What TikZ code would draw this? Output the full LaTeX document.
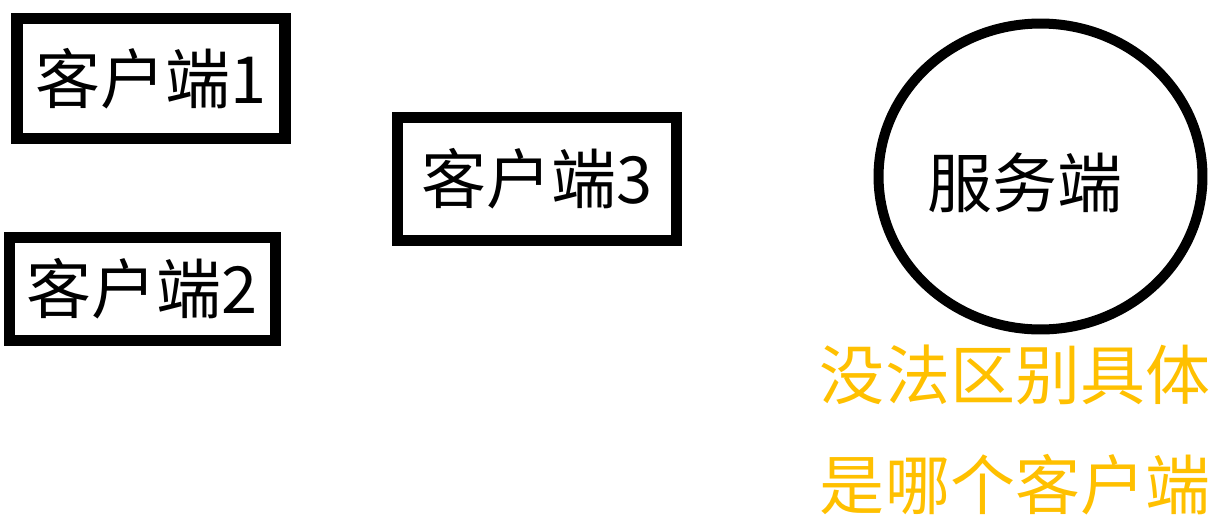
\documentclass[tikz,border=0pt]{standalone}
\usepackage{fontspec}
\setmainfont{Noto Sans CJK SC}
\usetikzlibrary{shapes.geometric}
\definecolor{noteGold}{RGB}{255, 192, 0}

\begin{document}
\begin{tikzpicture}[x=0.02cm, y=-0.02cm,
    client/.style={draw, line width=6.3pt, inner sep=0pt, font=\fontsize{37}{37}\selectfont},
    bigtext/.style={font=\fontsize{37}{62.6}\selectfont}]
  \useasboundingbox (0,0) rectangle (1219,525);
  \node[client, minimum width=5.36cm, minimum height=2.41cm] (client1) at (151,78.3) {客户端1};
  \node[client, minimum width=5.32cm, minimum height=2.06cm] (client2) at (142.5,289) {客户端2};
  \node[client, minimum width=5.58cm, minimum height=2.45cm] (client3) at (537,178.8) {客户端3};
  \node[draw, ellipse, line width=5.7pt, inner sep=0pt,
        minimum width=6.48cm, minimum height=6.12cm] (server) at (1040.5,176.5) {};
  \node[bigtext] (serverlabel) at (1025,183) {服务端};
  \node[bigtext, text=noteGold, align=center] (note) at (1015,430) {没法区别具体\\是哪个客户端};
\end{tikzpicture}
\end{document}
